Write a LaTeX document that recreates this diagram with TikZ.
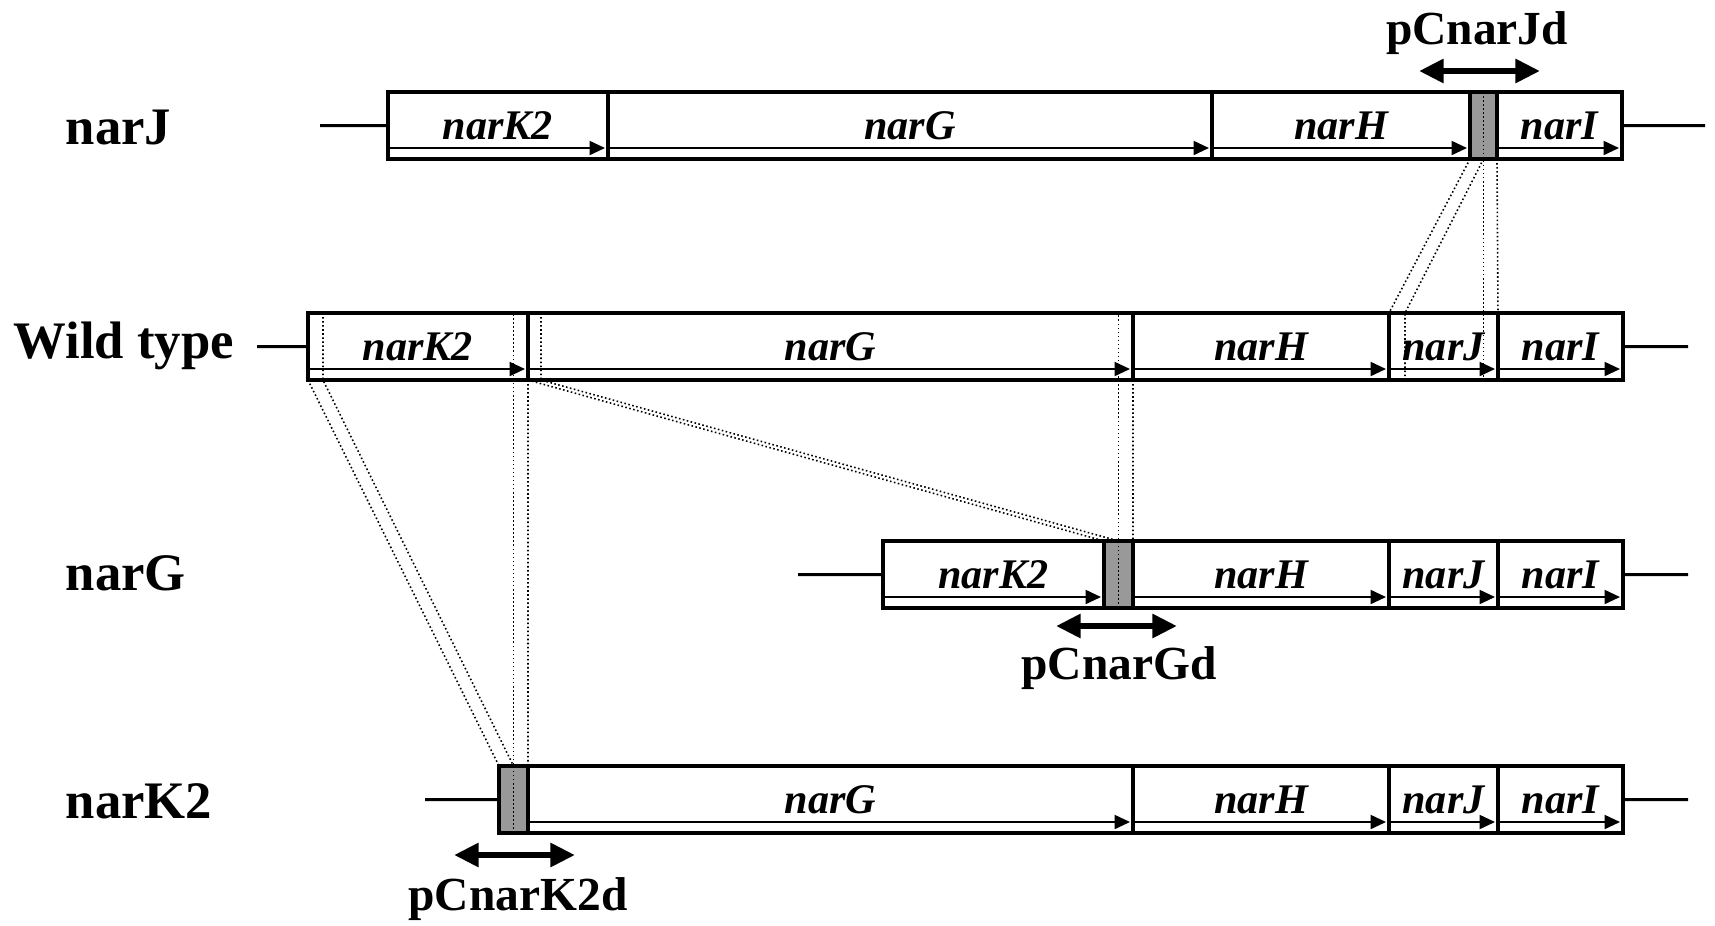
\documentclass[tikz,border=0pt]{standalone}
\usepackage{fontspec}
\setmainfont{Liberation Serif}
\usetikzlibrary{arrows.meta,positioning}

\begin{document}
\begin{tikzpicture}[
  x=0.1mm, y=-0.1mm,
  gene/.style={draw,line width=1.1pt,rectangle,inner sep=0pt,outer sep=0pt,
    minimum height=6.7mm,font=\fontsize{12}{14}\selectfont\bfseries\itshape},
  deleted/.style={gene,fill=black!40},
  orf/.style={-{Triangle[length=4.4pt,width=4pt]},line width=0.55pt},
  flank/.style={line width=0.85pt},
  cut/.style={line width=0.45pt,dash pattern=on 0.45pt off 0.7pt},
  probe/.style={{Triangle[length=7pt,width=6.5pt]}-{Triangle[length=7pt,width=6.5pt]},line width=1.8pt},
  rowLabel/.style={anchor=west,inner sep=0pt,font=\fontsize{15}{18}\selectfont\bfseries},
  primer/.style={font=\fontsize{13.5}{16}\selectfont\bfseries}]

  \useasboundingbox (0,0) rectangle (1715,925);

  % row labels
  \node[rowLabel] (lJ) at (65,127) {narJ};
  \node[rowLabel] (lWT) at (13,346) {Wild type};
  \node[rowLabel] (lG) at (65,573) {narG};
  \node[rowLabel] (lK2) at (65,801) {narK2};

  % narJ mutant
  \node[gene,anchor=north west,minimum width=22mm] (jK2) at (388,92) {narK2};
  \node[gene,minimum width=60.4mm,right=0pt of jK2] (jG) {narG};
  \node[gene,minimum width=25.8mm,right=0pt of jG] (jH) {narH};
  \node[deleted,minimum width=2.7mm,right=0pt of jH] (jSh) {};
  \node[gene,minimum width=12.5mm,right=0pt of jSh] (jI) {narI};

  % wild type
  \node[gene,anchor=north west,minimum width=22mm] (wK2) at (308,313) {narK2};
  \node[gene,minimum width=60.5mm,right=0pt of wK2] (wG) {narG};
  \node[gene,minimum width=25.6mm,right=0pt of wG] (wH) {narH};
  \node[gene,minimum width=10.9mm,right=0pt of wH] (wJ) {narJ};
  \node[gene,minimum width=12.5mm,right=0pt of wJ] (wI) {narI};

  % narG mutant
  \node[gene,anchor=north west,minimum width=22.1mm] (gK2) at (883,541) {narK2};
  \node[deleted,minimum width=2.9mm,right=0pt of gK2] (gSh) {};
  \node[gene,minimum width=25.6mm,right=0pt of gSh] (gH) {narH};
  \node[gene,minimum width=10.9mm,right=0pt of gH] (gJ) {narJ};
  \node[gene,minimum width=12.5mm,right=0pt of gJ] (gI) {narI};

  % narK2 mutant
  \node[deleted,anchor=north west,minimum width=2.9mm] (kSh) at (499,766) {};
  \node[gene,minimum width=60.5mm,right=0pt of kSh] (kG) {narG};
  \node[gene,minimum width=25.6mm,right=0pt of kG] (kH) {narH};
  \node[gene,minimum width=10.9mm,right=0pt of kH] (kJ) {narJ};
  \node[gene,minimum width=12.5mm,right=0pt of kJ] (kI) {narI};

  % flanking DNA
  \coordinate (jL) at (320,125.5);
  \coordinate (jR) at (1705,125.5);
  \coordinate (wL) at (257,346.5);
  \coordinate (wR) at (1688,346.5);
  \coordinate (gL) at (798,574.5);
  \coordinate (gR) at (1688,574.5);
  \coordinate (kL) at (425,799.5);
  \coordinate (kR) at (1688,799.5);
  \draw[flank] (jL) -- (jK2.west);
  \draw[flank] (jI.east) -- (jR);
  \draw[flank] (wL) -- (wK2.west);
  \draw[flank] (wI.east) -- (wR);
  \draw[flank] (gL) -- (gK2.west);
  \draw[flank] (gI.east) -- (gR);
  \draw[flank] (kL) -- (kSh.west);
  \draw[flank] (kI.east) -- (kR);

  % reading frames
  \draw[orf] ([shift={(2,-11)}]jK2.south west) -- ([shift={(-3,-11)}]jK2.south east);
  \draw[orf] ([shift={(2,-11)}]jG.south west) -- ([shift={(-3,-11)}]jG.south east);
  \draw[orf] ([shift={(2,-11)}]jH.south west) -- ([shift={(-3,-11)}]jH.south east);
  \draw[orf] ([shift={(2,-11)}]jI.south west) -- ([shift={(-3,-11)}]jI.south east);
  \draw[orf] ([shift={(2,-11)}]wK2.south west) -- ([shift={(-3,-11)}]wK2.south east);
  \draw[orf] ([shift={(2,-11)}]wG.south west) -- ([shift={(-3,-11)}]wG.south east);
  \draw[orf] ([shift={(2,-11)}]wH.south west) -- ([shift={(-3,-11)}]wH.south east);
  \draw[orf] ([shift={(2,-11)}]wJ.south west) -- ([shift={(-3,-11)}]wJ.south east);
  \draw[orf] ([shift={(2,-11)}]wI.south west) -- ([shift={(-3,-11)}]wI.south east);
  \draw[orf] ([shift={(2,-11)}]gK2.south west) -- ([shift={(-3,-11)}]gK2.south east);
  \draw[orf] ([shift={(2,-11)}]gH.south west) -- ([shift={(-3,-11)}]gH.south east);
  \draw[orf] ([shift={(2,-11)}]gJ.south west) -- ([shift={(-3,-11)}]gJ.south east);
  \draw[orf] ([shift={(2,-11)}]gI.south west) -- ([shift={(-3,-11)}]gI.south east);
  \draw[orf] ([shift={(2,-11)}]kG.south west) -- ([shift={(-3,-11)}]kG.south east);
  \draw[orf] ([shift={(2,-11)}]kH.south west) -- ([shift={(-3,-11)}]kH.south east);
  \draw[orf] ([shift={(2,-11)}]kJ.south west) -- ([shift={(-3,-11)}]kJ.south east);
  \draw[orf] ([shift={(2,-11)}]kI.south west) -- ([shift={(-3,-11)}]kI.south east);

  % deletion borders, narJ
  \coordinate (wJa) at (1405,313);
  \draw[cut] (jSh.south west) -- (wJ.north west);
  \draw[cut] (jSh.south) -- (wJa) -- (wJa |- wJ.south);
  \draw[cut] (jSh.north) -- (jSh.north |- wJ.south);
  \draw[cut] (jSh.south east) -- (wJ.north east);

  % deletion borders, narG
  \coordinate (wGa) at (541,313);
  \draw[cut] (wK2.south east) -- (gSh.north west);
  \draw[cut] (wGa) -- (wGa |- wG.south) -- (gSh.north);
  \draw[cut] (gSh.south) -- (gSh.north |- wG.north);
  \draw[cut] (wG.south east) -- (gSh.north east);

  % deletion borders, narK2
  \coordinate (wKa) at (323,313);
  \draw[cut] (wK2.south west) -- (kSh.north west);
  \draw[cut] (wKa) -- (wKa |- wK2.south) -- (kSh.north);
  \draw[cut] (kSh.south) -- (kSh.north |- wK2.north);
  \draw[cut] (wK2.south east) -- (kSh.north east);

  % PCR fragments
  \node[primer] (pJd) at (1477,33) {pCnarJd};
  \node[primer] (pGd) at (1119,668) {pCnarGd};
  \node[primer] (pK2d) at (518,899) {pCnarK2d};
  \coordinate (pJa) at (1419,71);
  \coordinate (pJb) at (1540,71);
  \coordinate (pGa) at (1056,626);
  \coordinate (pGb) at (1177,626);
  \coordinate (pKa) at (454,855);
  \coordinate (pKb) at (575,855);
  \draw[probe] (pJa) -- (pJb);
  \draw[probe] (pGa) -- (pGb);
  \draw[probe] (pKa) -- (pKb);
\end{tikzpicture}
\end{document}
